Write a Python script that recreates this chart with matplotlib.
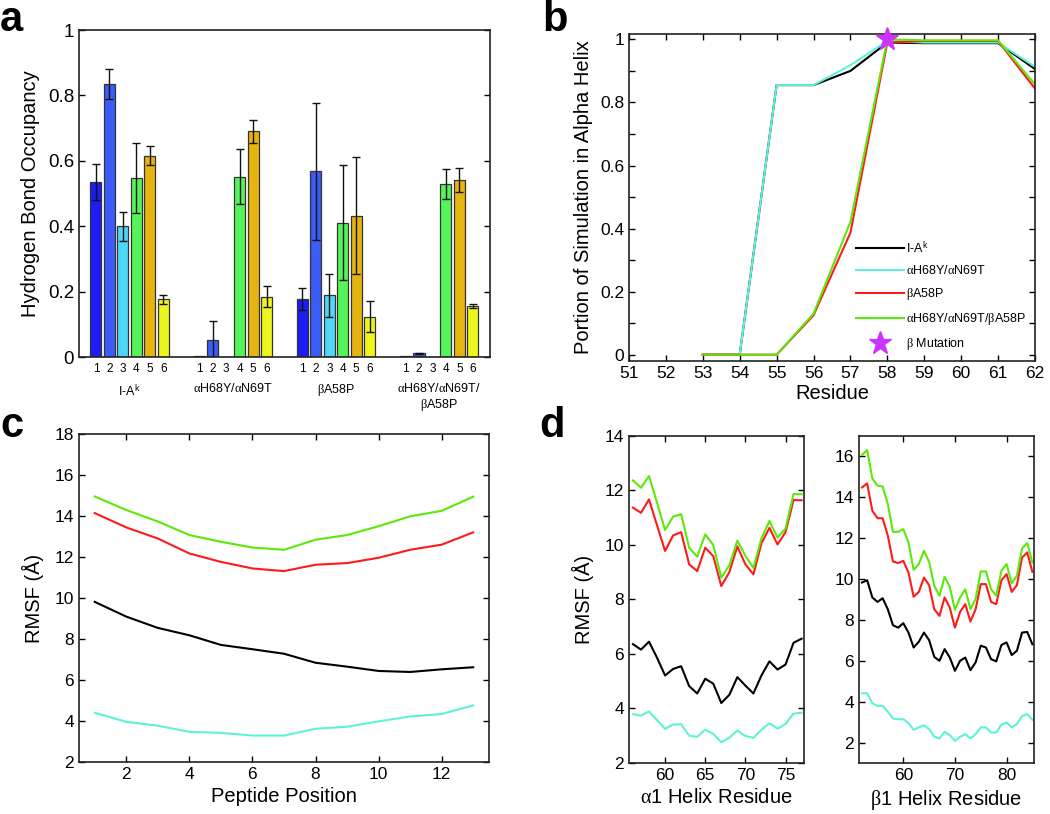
import numpy as np
import matplotlib
matplotlib.use("Agg")
import matplotlib.pyplot as plt
from matplotlib.ticker import FormatStrFormatter, MultipleLocator

plt.rcParams['font.family'] = ['Liberation Sans', 'DejaVu Sans']
plt.rcParams['mathtext.fontset'] = 'custom'
plt.rcParams['mathtext.rm'] = 'Liberation Serif'
plt.rcParams['mathtext.it'] = 'Liberation Serif'
plt.rcParams['mathtext.sf'] = 'Liberation Sans'

# ---- panel a: hydrogen bond occupancy ----
groups = ['I-A$^{\\mathsf{k}}$', '$\\alpha$H68Y/$\\alpha$N69T', '$\\beta$A58P',
          '$\\alpha$H68Y/$\\alpha$N69T/\n$\\beta$A58P']
bond_labels = ['1', '2', '3', '4', '5', '6']
occ_iak = [0.535, 0.835, 0.400, 0.548, 0.616, 0.176]
err_iak = [0.055, 0.046, 0.044, 0.108, 0.030, 0.014]
occ_dbl = [0.002, 0.051, 0.0, 0.551, 0.690, 0.185]
err_dbl = [0.0, 0.059, 0.0, 0.084, 0.035, 0.031]
occ_b58 = [0.177, 0.568, 0.189, 0.411, 0.432, 0.123]
err_b58 = [0.033, 0.210, 0.066, 0.175, 0.179, 0.047]
occ_tri = [0.002, 0.011, 0.0, 0.529, 0.541, 0.156]
err_tri = [0.0, 0.002, 0.0, 0.045, 0.037, 0.005]
bar_colors = ['#1c1cf5', '#3b5cf8', '#4ed8f8', '#55f55a', '#e6b40f', '#eef51a']

# ---- panel b: helicity ----
res_b = [53, 54, 55, 56, 57, 58, 59, 60, 61, 62]
helix_iak = [0, 0, 0.855, 0.855, 0.900, 0.990, 0.988, 0.988, 0.988, 0.906]
helix_dbl = [np.nan, 0, 0.855, 0.855, 0.918, 0.995, 0.990, 0.990, 0.990, 0.913]
helix_b58 = [0, 0, 0, 0.125, 0.387, 0.990, 0.995, 0.995, 0.995, 0.844]
helix_tri = [0, 0, 0, 0.130, 0.421, 1.000, 0.997, 0.997, 0.997, 0.857]
mutation_res = 58
mutation_val = 1.0

# ---- panel c: peptide RMSF ----
pep_pos = list(range(1, 14))
pep_iak = [9.81, 9.09, 8.54, 8.18, 7.71, 7.50, 7.28, 6.84, 6.65, 6.44, 6.39, 6.52, 6.62]
pep_dbl = [4.40, 3.96, 3.77, 3.47, 3.42, 3.29, 3.29, 3.62, 3.72, 3.98, 4.22, 4.34, 4.76]
pep_b58 = [14.14, 13.44, 12.90, 12.17, 11.76, 11.44, 11.31, 11.62, 11.70, 11.96, 12.35, 12.60, 13.20]
pep_tri = [14.95, 14.29, 13.73, 13.07, 12.74, 12.46, 12.35, 12.84, 13.07, 13.50, 13.98, 14.25, 14.94]

# ---- panel d: helix RMSF ----
a1_res = list(range(56, 78))
a1_iak = [6.36, 6.16, 6.45, 5.86, 5.21, 5.45, 5.55, 4.82, 4.55, 5.09, 4.91,
          4.20, 4.50, 5.15, 4.84, 4.55, 5.21, 5.73, 5.43, 5.61, 6.41, 6.56]
a1_dbl = [3.79, 3.74, 3.89, 3.57, 3.25, 3.41, 3.42, 3.00, 2.96, 3.22, 3.07,
          2.76, 2.93, 3.19, 2.99, 2.92, 3.22, 3.46, 3.26, 3.43, 3.81, 3.84]
a1_b58 = [11.37, 11.18, 11.67, 10.72, 9.78, 10.35, 10.47, 9.29, 9.04, 9.90, 9.59,
          8.49, 9.00, 9.95, 9.29, 8.92, 10.06, 10.63, 10.02, 10.47, 11.65, 11.64]
a1_tri = [12.37, 12.10, 12.53, 11.55, 10.55, 11.04, 11.13, 9.90, 9.57, 10.39, 10.00,
          8.80, 9.25, 10.16, 9.60, 9.16, 10.24, 10.88, 10.27, 10.60, 11.87, 11.86]

b1_res = list(range(52, 86))
b1_iak = [9.83, 9.94, 9.10, 8.88, 9.06, 8.52, 7.74, 7.62, 7.84, 7.38, 6.65, 6.93,
          7.38, 7.01, 6.19, 6.00, 6.57, 6.16, 5.51, 6.00, 6.16, 5.54, 5.92, 6.74,
          6.65, 6.08, 5.97, 6.77, 6.90, 6.28, 6.49, 7.38, 7.41, 6.81]
b1_dbl = [4.41, 4.41, 3.92, 3.79, 3.79, 3.51, 3.17, 3.14, 3.14, 2.95, 2.62, 2.74,
          2.85, 2.66, 2.28, 2.20, 2.52, 2.36, 2.08, 2.28, 2.41, 2.20, 2.41, 2.74,
          2.74, 2.49, 2.49, 2.87, 2.98, 2.74, 2.90, 3.30, 3.39, 3.11]
b1_b58 = [14.48, 14.68, 13.34, 12.98, 12.97, 12.12, 10.86, 10.78, 10.89, 10.32, 9.13, 9.37,
          10.07, 9.70, 8.52, 8.20, 9.10, 8.60, 7.62, 8.39, 8.77, 7.92, 8.52, 9.75,
          9.75, 8.88, 8.77, 9.94, 10.24, 9.37, 9.70, 11.05, 11.30, 10.35]
b1_tri = [16.07, 16.31, 14.92, 14.56, 14.53, 13.67, 12.31, 12.31, 12.44, 11.79, 10.45, 10.73,
          11.38, 10.84, 9.67, 9.18, 10.11, 9.62, 8.49, 9.10, 9.50, 8.52, 9.02, 10.37,
          10.37, 9.50, 9.18, 10.41, 10.73, 9.78, 10.16, 11.50, 11.76, 10.81]

series_names = ['I-A$^{\\mathsf{k}}$', '$\\alpha$H68Y/$\\alpha$N69T', '$\\beta$A58P',
                '$\\alpha$H68Y/$\\alpha$N69T/$\\beta$A58P']
line_colors = ['#000000', '#5ef2d8', '#ff1a1a', '#5ce80a']
lw = 1.5
label_fs = 14.5


def style_box(ax, top=True, size=12.5):
    ax.tick_params(direction='in', right=True, top=top, length=4, width=1,
                   labelsize=size)
    for s in ax.spines.values():
        s.set_linewidth(1.2)
        s.set_color('#222222')


fig = plt.figure(figsize=(10.5, 8.14), dpi=100)

# panel a
ax = fig.add_axes([0.0752, 0.5614, 0.3914, 0.4017])
occ = [occ_iak, occ_dbl, occ_b58, occ_tri]
err = [err_iak, err_dbl, err_b58, err_tri]
gap = 7.65
xs_all, lab_all = [], []
for g in range(4):
    xs = np.arange(6) + g * gap
    ax.bar(xs, occ[g], width=0.82, color=bar_colors, edgecolor='#333333',
           linewidth=0.9, zorder=2)
    e = np.array(err[g])
    ax.errorbar(xs[e > 0], np.array(occ[g])[e > 0], yerr=e[e > 0], fmt='none',
                ecolor='#111111', elinewidth=1, capsize=3.2, capthick=1, zorder=3)
    xs_all += list(xs)
    lab_all += bond_labels
    ax.annotate(groups[g], xy=(xs.mean(), 0), xycoords=('data', 'axes fraction'),
                xytext=(0, -18), textcoords='offset points', ha='center', va='top',
                fontsize=9)
ax.set_xticks(xs_all)
ax.set_xticklabels(lab_all)
ax.set_xlim(-1.26, 5 + 3 * gap + 1.26)
ax.set_ylim(0, 1)
ax.yaxis.set_major_locator(MultipleLocator(0.2))
ax.yaxis.set_major_formatter(FormatStrFormatter('%g'))
style_box(ax, top=False, size=13.5)
ax.tick_params(axis='x', length=0, pad=4, labelsize=8.5)
ax.set_ylabel('Hydrogen Bond Occupancy', fontsize=label_fs, labelpad=6)

# panel b
ax = fig.add_axes([0.599, 0.5565, 0.3867, 0.4017])
helix = [helix_iak, helix_dbl, helix_b58, helix_tri]
for vals, c, n in zip(helix, line_colors, series_names):
    ax.plot(res_b, vals, color=c, lw=lw, label=n)
ax.plot([mutation_res], [mutation_val], marker='*', ms=17, color='#cc33ff',
        ls='none', label='$\\beta$ Mutation', clip_on=False, zorder=5)
ax.set_xlim(51, 62)
ax.set_ylim(-0.02, 1.017)
ax.set_xticks(range(51, 63))
ax.yaxis.set_major_locator(MultipleLocator(0.2))
ax.yaxis.set_minor_locator(MultipleLocator(0.1))
ax.yaxis.set_major_formatter(FormatStrFormatter('%g'))
style_box(ax, size=12.5)
ax.tick_params(which='minor', direction='in', right=True, length=4, width=1)
ax.set_xlabel('Residue', fontsize=label_fs, labelpad=2)
ax.set_ylabel('Portion of Simulation in Alpha Helix', fontsize=label_fs, labelpad=5)
ax.legend(loc='lower right', frameon=False, fontsize=9, handlelength=3.8,
          labelspacing=0.72, handletextpad=0.2, borderaxespad=0.3,
          bbox_to_anchor=(1.0, 0.0))

# panel c
ax = fig.add_axes([0.0752, 0.0639, 0.3905, 0.403])
for vals, c in zip([pep_iak, pep_dbl, pep_b58, pep_tri], line_colors):
    ax.plot(pep_pos, vals, color=c, lw=lw)
ax.set_xlim(0.5, 13.5)
ax.set_ylim(2, 18)
ax.set_xticks(range(2, 13, 2))
ax.set_yticks(range(2, 19, 2))
style_box(ax)
ax.set_xlabel('Peptide Position', fontsize=label_fs, labelpad=4)
ax.set_ylabel('RMSF (Å)', fontsize=label_fs, labelpad=8)

# panel d, alpha1
ax = fig.add_axes([0.599, 0.0627, 0.1667, 0.4017])
for vals, c in zip([a1_iak, a1_dbl, a1_b58, a1_tri], line_colors):
    ax.plot(a1_res, vals, color=c, lw=lw)
ax.set_xlim(55.5, 77.3)
ax.set_ylim(2, 14)
ax.set_xticks([60, 65, 70, 75])
ax.set_yticks(range(2, 15, 2))
style_box(ax)
ax.set_xlabel('$\\alpha$1 Helix Residue', fontsize=label_fs, labelpad=4)
ax.set_ylabel('RMSF (Å)', fontsize=label_fs, labelpad=8)

# panel d, beta1
ax = fig.add_axes([0.818, 0.0627, 0.1667, 0.4017])
for vals, c in zip([b1_iak, b1_dbl, b1_b58, b1_tri], line_colors):
    ax.plot(b1_res, vals, color=c, lw=lw)
ax.set_xlim(51.4, 85.3)
ax.set_ylim(1, 17)
ax.set_xticks([60, 70, 80])
ax.set_yticks(range(2, 17, 2))
style_box(ax)
ax.set_xlabel('$\\beta$1 Helix Residue', fontsize=label_fs, labelpad=4)

# panel letters
for lbl, x, y in [('a', 0.0, 0.962), ('b', 0.516, 0.962),
                  ('c', 0.0, 0.463), ('d', 0.514, 0.463)]:
    fig.text(x, y, lbl, fontsize=30, fontweight='bold', va='baseline')

fig.savefig('out.png', dpi=100)
